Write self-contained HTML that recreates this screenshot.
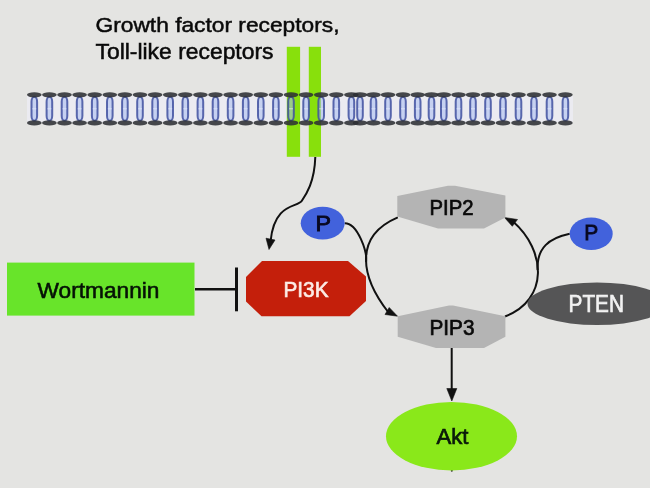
<!DOCTYPE html>
<html><head><meta charset="utf-8">
<style>
html,body{margin:0;padding:0;background:#e4e4e2;width:650px;height:488px;overflow:hidden}
svg{display:block;filter:blur(0.4px)}
text{font-family:"Liberation Sans",sans-serif}
</style></head><body>
<svg width="650" height="488" viewBox="0 0 650 488">
<rect width="650" height="488" fill="#e4e4e2"/>
<text x="95.50" y="32.44" font-size="21" fill="#0a0a0a" stroke="#0a0a0a" stroke-width="0.5" textLength="244.00" lengthAdjust="spacingAndGlyphs">Growth factor receptors,</text>
<text x="95.50" y="58.94" font-size="21.5" fill="#0a0a0a" stroke="#0a0a0a" stroke-width="0.5" textLength="178.00" lengthAdjust="spacingAndGlyphs">Toll-like receptors</text>
<rect x="27" y="96" width="546" height="26" fill="#ebebf1"/>
<rect x="286.8" y="46.8" width="13.3" height="110" fill="#88e00c"/>
<rect x="308.8" y="46.8" width="12.2" height="110" fill="#88e00c"/>
<rect x="31.5" y="96.8" width="5.6" height="24" rx="2.8" ry="5" fill="#a8bcf0" fill-opacity="0.55" stroke="#3f50a0" stroke-opacity="0.85" stroke-width="2"/>
<rect x="46.6" y="96.8" width="5.6" height="24" rx="2.8" ry="5" fill="#a8bcf0" fill-opacity="0.55" stroke="#3f50a0" stroke-opacity="0.85" stroke-width="2"/>
<rect x="61.7" y="96.8" width="5.6" height="24" rx="2.8" ry="5" fill="#a8bcf0" fill-opacity="0.55" stroke="#3f50a0" stroke-opacity="0.85" stroke-width="2"/>
<rect x="76.8" y="96.8" width="5.6" height="24" rx="2.8" ry="5" fill="#a8bcf0" fill-opacity="0.55" stroke="#3f50a0" stroke-opacity="0.85" stroke-width="2"/>
<rect x="91.9" y="96.8" width="5.6" height="24" rx="2.8" ry="5" fill="#a8bcf0" fill-opacity="0.55" stroke="#3f50a0" stroke-opacity="0.85" stroke-width="2"/>
<rect x="107.0" y="96.8" width="5.6" height="24" rx="2.8" ry="5" fill="#a8bcf0" fill-opacity="0.55" stroke="#3f50a0" stroke-opacity="0.85" stroke-width="2"/>
<rect x="122.1" y="96.8" width="5.6" height="24" rx="2.8" ry="5" fill="#a8bcf0" fill-opacity="0.55" stroke="#3f50a0" stroke-opacity="0.85" stroke-width="2"/>
<rect x="137.2" y="96.8" width="5.6" height="24" rx="2.8" ry="5" fill="#a8bcf0" fill-opacity="0.55" stroke="#3f50a0" stroke-opacity="0.85" stroke-width="2"/>
<rect x="152.3" y="96.8" width="5.6" height="24" rx="2.8" ry="5" fill="#a8bcf0" fill-opacity="0.55" stroke="#3f50a0" stroke-opacity="0.85" stroke-width="2"/>
<rect x="167.4" y="96.8" width="5.6" height="24" rx="2.8" ry="5" fill="#a8bcf0" fill-opacity="0.55" stroke="#3f50a0" stroke-opacity="0.85" stroke-width="2"/>
<rect x="182.5" y="96.8" width="5.6" height="24" rx="2.8" ry="5" fill="#a8bcf0" fill-opacity="0.55" stroke="#3f50a0" stroke-opacity="0.85" stroke-width="2"/>
<rect x="197.6" y="96.8" width="5.6" height="24" rx="2.8" ry="5" fill="#a8bcf0" fill-opacity="0.55" stroke="#3f50a0" stroke-opacity="0.85" stroke-width="2"/>
<rect x="212.7" y="96.8" width="5.6" height="24" rx="2.8" ry="5" fill="#a8bcf0" fill-opacity="0.55" stroke="#3f50a0" stroke-opacity="0.85" stroke-width="2"/>
<rect x="227.8" y="96.8" width="5.6" height="24" rx="2.8" ry="5" fill="#a8bcf0" fill-opacity="0.55" stroke="#3f50a0" stroke-opacity="0.85" stroke-width="2"/>
<rect x="242.9" y="96.8" width="5.6" height="24" rx="2.8" ry="5" fill="#a8bcf0" fill-opacity="0.55" stroke="#3f50a0" stroke-opacity="0.85" stroke-width="2"/>
<rect x="258.0" y="96.8" width="5.6" height="24" rx="2.8" ry="5" fill="#a8bcf0" fill-opacity="0.55" stroke="#3f50a0" stroke-opacity="0.85" stroke-width="2"/>
<rect x="273.1" y="96.8" width="5.6" height="24" rx="2.8" ry="5" fill="#a8bcf0" fill-opacity="0.55" stroke="#3f50a0" stroke-opacity="0.85" stroke-width="2"/>
<rect x="288.2" y="96.8" width="5.6" height="24" rx="2.8" ry="5" fill="#a8bcf0" fill-opacity="0.55" stroke="#3f50a0" stroke-opacity="0.85" stroke-width="2"/>
<rect x="303.3" y="96.8" width="5.6" height="24" rx="2.8" ry="5" fill="#a8bcf0" fill-opacity="0.55" stroke="#3f50a0" stroke-opacity="0.85" stroke-width="2"/>
<rect x="318.4" y="96.8" width="5.6" height="24" rx="2.8" ry="5" fill="#a8bcf0" fill-opacity="0.55" stroke="#3f50a0" stroke-opacity="0.85" stroke-width="2"/>
<rect x="333.5" y="96.8" width="5.6" height="24" rx="2.8" ry="5" fill="#a8bcf0" fill-opacity="0.55" stroke="#3f50a0" stroke-opacity="0.85" stroke-width="2"/>
<rect x="348.6" y="96.8" width="5.6" height="24" rx="2.8" ry="5" fill="#a8bcf0" fill-opacity="0.55" stroke="#3f50a0" stroke-opacity="0.85" stroke-width="2"/>
<rect x="357.2" y="96.8" width="5.6" height="24" rx="2.8" ry="5" fill="#a8bcf0" fill-opacity="0.55" stroke="#3f50a0" stroke-opacity="0.85" stroke-width="2"/>
<rect x="370.7" y="96.8" width="5.6" height="24" rx="2.8" ry="5" fill="#a8bcf0" fill-opacity="0.55" stroke="#3f50a0" stroke-opacity="0.85" stroke-width="2"/>
<rect x="385.2" y="96.8" width="5.6" height="24" rx="2.8" ry="5" fill="#a8bcf0" fill-opacity="0.55" stroke="#3f50a0" stroke-opacity="0.85" stroke-width="2"/>
<rect x="400.2" y="96.8" width="5.6" height="24" rx="2.8" ry="5" fill="#a8bcf0" fill-opacity="0.55" stroke="#3f50a0" stroke-opacity="0.85" stroke-width="2"/>
<rect x="414.9" y="96.8" width="5.6" height="24" rx="2.8" ry="5" fill="#a8bcf0" fill-opacity="0.55" stroke="#3f50a0" stroke-opacity="0.85" stroke-width="2"/>
<rect x="428.7" y="96.8" width="5.6" height="24" rx="2.8" ry="5" fill="#a8bcf0" fill-opacity="0.55" stroke="#3f50a0" stroke-opacity="0.85" stroke-width="2"/>
<rect x="441.0" y="96.8" width="5.6" height="24" rx="2.8" ry="5" fill="#a8bcf0" fill-opacity="0.55" stroke="#3f50a0" stroke-opacity="0.85" stroke-width="2"/>
<rect x="455.7" y="96.8" width="5.6" height="24" rx="2.8" ry="5" fill="#a8bcf0" fill-opacity="0.55" stroke="#3f50a0" stroke-opacity="0.85" stroke-width="2"/>
<rect x="470.2" y="96.8" width="5.6" height="24" rx="2.8" ry="5" fill="#a8bcf0" fill-opacity="0.55" stroke="#3f50a0" stroke-opacity="0.85" stroke-width="2"/>
<rect x="485.2" y="96.8" width="5.6" height="24" rx="2.8" ry="5" fill="#a8bcf0" fill-opacity="0.55" stroke="#3f50a0" stroke-opacity="0.85" stroke-width="2"/>
<rect x="500.2" y="96.8" width="5.6" height="24" rx="2.8" ry="5" fill="#a8bcf0" fill-opacity="0.55" stroke="#3f50a0" stroke-opacity="0.85" stroke-width="2"/>
<rect x="515.7" y="96.8" width="5.6" height="24" rx="2.8" ry="5" fill="#a8bcf0" fill-opacity="0.55" stroke="#3f50a0" stroke-opacity="0.85" stroke-width="2"/>
<rect x="531.2" y="96.8" width="5.6" height="24" rx="2.8" ry="5" fill="#a8bcf0" fill-opacity="0.55" stroke="#3f50a0" stroke-opacity="0.85" stroke-width="2"/>
<rect x="546.7" y="96.8" width="5.6" height="24" rx="2.8" ry="5" fill="#a8bcf0" fill-opacity="0.55" stroke="#3f50a0" stroke-opacity="0.85" stroke-width="2"/>
<rect x="562.6" y="96.8" width="5.6" height="24" rx="2.8" ry="5" fill="#a8bcf0" fill-opacity="0.55" stroke="#3f50a0" stroke-opacity="0.85" stroke-width="2"/>
<line x1="32.3" y1="108.8" x2="36.3" y2="108.8" stroke="#e6ecfc" stroke-width="1" stroke-opacity="0.7"/>
<line x1="47.4" y1="108.8" x2="51.4" y2="108.8" stroke="#e6ecfc" stroke-width="1" stroke-opacity="0.7"/>
<line x1="62.5" y1="108.8" x2="66.5" y2="108.8" stroke="#e6ecfc" stroke-width="1" stroke-opacity="0.7"/>
<line x1="77.6" y1="108.8" x2="81.6" y2="108.8" stroke="#e6ecfc" stroke-width="1" stroke-opacity="0.7"/>
<line x1="92.7" y1="108.8" x2="96.7" y2="108.8" stroke="#e6ecfc" stroke-width="1" stroke-opacity="0.7"/>
<line x1="107.8" y1="108.8" x2="111.8" y2="108.8" stroke="#e6ecfc" stroke-width="1" stroke-opacity="0.7"/>
<line x1="122.9" y1="108.8" x2="126.9" y2="108.8" stroke="#e6ecfc" stroke-width="1" stroke-opacity="0.7"/>
<line x1="138.0" y1="108.8" x2="142.0" y2="108.8" stroke="#e6ecfc" stroke-width="1" stroke-opacity="0.7"/>
<line x1="153.1" y1="108.8" x2="157.1" y2="108.8" stroke="#e6ecfc" stroke-width="1" stroke-opacity="0.7"/>
<line x1="168.2" y1="108.8" x2="172.2" y2="108.8" stroke="#e6ecfc" stroke-width="1" stroke-opacity="0.7"/>
<line x1="183.3" y1="108.8" x2="187.3" y2="108.8" stroke="#e6ecfc" stroke-width="1" stroke-opacity="0.7"/>
<line x1="198.4" y1="108.8" x2="202.4" y2="108.8" stroke="#e6ecfc" stroke-width="1" stroke-opacity="0.7"/>
<line x1="213.5" y1="108.8" x2="217.5" y2="108.8" stroke="#e6ecfc" stroke-width="1" stroke-opacity="0.7"/>
<line x1="228.6" y1="108.8" x2="232.6" y2="108.8" stroke="#e6ecfc" stroke-width="1" stroke-opacity="0.7"/>
<line x1="243.7" y1="108.8" x2="247.7" y2="108.8" stroke="#e6ecfc" stroke-width="1" stroke-opacity="0.7"/>
<line x1="258.8" y1="108.8" x2="262.8" y2="108.8" stroke="#e6ecfc" stroke-width="1" stroke-opacity="0.7"/>
<line x1="273.9" y1="108.8" x2="277.9" y2="108.8" stroke="#e6ecfc" stroke-width="1" stroke-opacity="0.7"/>
<line x1="289.0" y1="108.8" x2="293.0" y2="108.8" stroke="#e6ecfc" stroke-width="1" stroke-opacity="0.7"/>
<line x1="304.1" y1="108.8" x2="308.1" y2="108.8" stroke="#e6ecfc" stroke-width="1" stroke-opacity="0.7"/>
<line x1="319.2" y1="108.8" x2="323.2" y2="108.8" stroke="#e6ecfc" stroke-width="1" stroke-opacity="0.7"/>
<line x1="334.3" y1="108.8" x2="338.3" y2="108.8" stroke="#e6ecfc" stroke-width="1" stroke-opacity="0.7"/>
<line x1="349.4" y1="108.8" x2="353.4" y2="108.8" stroke="#e6ecfc" stroke-width="1" stroke-opacity="0.7"/>
<line x1="358.0" y1="108.8" x2="362.0" y2="108.8" stroke="#e6ecfc" stroke-width="1" stroke-opacity="0.7"/>
<line x1="371.5" y1="108.8" x2="375.5" y2="108.8" stroke="#e6ecfc" stroke-width="1" stroke-opacity="0.7"/>
<line x1="386.0" y1="108.8" x2="390.0" y2="108.8" stroke="#e6ecfc" stroke-width="1" stroke-opacity="0.7"/>
<line x1="401.0" y1="108.8" x2="405.0" y2="108.8" stroke="#e6ecfc" stroke-width="1" stroke-opacity="0.7"/>
<line x1="415.7" y1="108.8" x2="419.7" y2="108.8" stroke="#e6ecfc" stroke-width="1" stroke-opacity="0.7"/>
<line x1="429.5" y1="108.8" x2="433.5" y2="108.8" stroke="#e6ecfc" stroke-width="1" stroke-opacity="0.7"/>
<line x1="441.8" y1="108.8" x2="445.8" y2="108.8" stroke="#e6ecfc" stroke-width="1" stroke-opacity="0.7"/>
<line x1="456.5" y1="108.8" x2="460.5" y2="108.8" stroke="#e6ecfc" stroke-width="1" stroke-opacity="0.7"/>
<line x1="471.0" y1="108.8" x2="475.0" y2="108.8" stroke="#e6ecfc" stroke-width="1" stroke-opacity="0.7"/>
<line x1="486.0" y1="108.8" x2="490.0" y2="108.8" stroke="#e6ecfc" stroke-width="1" stroke-opacity="0.7"/>
<line x1="501.0" y1="108.8" x2="505.0" y2="108.8" stroke="#e6ecfc" stroke-width="1" stroke-opacity="0.7"/>
<line x1="516.5" y1="108.8" x2="520.5" y2="108.8" stroke="#e6ecfc" stroke-width="1" stroke-opacity="0.7"/>
<line x1="532.0" y1="108.8" x2="536.0" y2="108.8" stroke="#e6ecfc" stroke-width="1" stroke-opacity="0.7"/>
<line x1="547.5" y1="108.8" x2="551.5" y2="108.8" stroke="#e6ecfc" stroke-width="1" stroke-opacity="0.7"/>
<line x1="563.4" y1="108.8" x2="567.4" y2="108.8" stroke="#e6ecfc" stroke-width="1" stroke-opacity="0.7"/>
<ellipse cx="34.3" cy="94.8" rx="7.3" ry="2.6" fill="#2e3034" fill-opacity="0.88"/>
<ellipse cx="34.3" cy="122.9" rx="7.3" ry="2.6" fill="#2e3034" fill-opacity="0.88"/>
<ellipse cx="49.4" cy="94.8" rx="7.3" ry="2.6" fill="#2e3034" fill-opacity="0.88"/>
<ellipse cx="49.4" cy="122.9" rx="7.3" ry="2.6" fill="#2e3034" fill-opacity="0.88"/>
<ellipse cx="64.5" cy="94.8" rx="7.3" ry="2.6" fill="#2e3034" fill-opacity="0.88"/>
<ellipse cx="64.5" cy="122.9" rx="7.3" ry="2.6" fill="#2e3034" fill-opacity="0.88"/>
<ellipse cx="79.6" cy="94.8" rx="7.3" ry="2.6" fill="#2e3034" fill-opacity="0.88"/>
<ellipse cx="79.6" cy="122.9" rx="7.3" ry="2.6" fill="#2e3034" fill-opacity="0.88"/>
<ellipse cx="94.7" cy="94.8" rx="7.3" ry="2.6" fill="#2e3034" fill-opacity="0.88"/>
<ellipse cx="94.7" cy="122.9" rx="7.3" ry="2.6" fill="#2e3034" fill-opacity="0.88"/>
<ellipse cx="109.8" cy="94.8" rx="7.3" ry="2.6" fill="#2e3034" fill-opacity="0.88"/>
<ellipse cx="109.8" cy="122.9" rx="7.3" ry="2.6" fill="#2e3034" fill-opacity="0.88"/>
<ellipse cx="124.9" cy="94.8" rx="7.3" ry="2.6" fill="#2e3034" fill-opacity="0.88"/>
<ellipse cx="124.9" cy="122.9" rx="7.3" ry="2.6" fill="#2e3034" fill-opacity="0.88"/>
<ellipse cx="140.0" cy="94.8" rx="7.3" ry="2.6" fill="#2e3034" fill-opacity="0.88"/>
<ellipse cx="140.0" cy="122.9" rx="7.3" ry="2.6" fill="#2e3034" fill-opacity="0.88"/>
<ellipse cx="155.1" cy="94.8" rx="7.3" ry="2.6" fill="#2e3034" fill-opacity="0.88"/>
<ellipse cx="155.1" cy="122.9" rx="7.3" ry="2.6" fill="#2e3034" fill-opacity="0.88"/>
<ellipse cx="170.2" cy="94.8" rx="7.3" ry="2.6" fill="#2e3034" fill-opacity="0.88"/>
<ellipse cx="170.2" cy="122.9" rx="7.3" ry="2.6" fill="#2e3034" fill-opacity="0.88"/>
<ellipse cx="185.3" cy="94.8" rx="7.3" ry="2.6" fill="#2e3034" fill-opacity="0.88"/>
<ellipse cx="185.3" cy="122.9" rx="7.3" ry="2.6" fill="#2e3034" fill-opacity="0.88"/>
<ellipse cx="200.4" cy="94.8" rx="7.3" ry="2.6" fill="#2e3034" fill-opacity="0.88"/>
<ellipse cx="200.4" cy="122.9" rx="7.3" ry="2.6" fill="#2e3034" fill-opacity="0.88"/>
<ellipse cx="215.5" cy="94.8" rx="7.3" ry="2.6" fill="#2e3034" fill-opacity="0.88"/>
<ellipse cx="215.5" cy="122.9" rx="7.3" ry="2.6" fill="#2e3034" fill-opacity="0.88"/>
<ellipse cx="230.6" cy="94.8" rx="7.3" ry="2.6" fill="#2e3034" fill-opacity="0.88"/>
<ellipse cx="230.6" cy="122.9" rx="7.3" ry="2.6" fill="#2e3034" fill-opacity="0.88"/>
<ellipse cx="245.7" cy="94.8" rx="7.3" ry="2.6" fill="#2e3034" fill-opacity="0.88"/>
<ellipse cx="245.7" cy="122.9" rx="7.3" ry="2.6" fill="#2e3034" fill-opacity="0.88"/>
<ellipse cx="260.8" cy="94.8" rx="7.3" ry="2.6" fill="#2e3034" fill-opacity="0.88"/>
<ellipse cx="260.8" cy="122.9" rx="7.3" ry="2.6" fill="#2e3034" fill-opacity="0.88"/>
<ellipse cx="275.9" cy="94.8" rx="7.3" ry="2.6" fill="#2e3034" fill-opacity="0.88"/>
<ellipse cx="275.9" cy="122.9" rx="7.3" ry="2.6" fill="#2e3034" fill-opacity="0.88"/>
<ellipse cx="291.0" cy="94.8" rx="7.3" ry="2.6" fill="#2e3034" fill-opacity="0.88"/>
<ellipse cx="291.0" cy="122.9" rx="7.3" ry="2.6" fill="#2e3034" fill-opacity="0.88"/>
<ellipse cx="306.1" cy="94.8" rx="7.3" ry="2.6" fill="#2e3034" fill-opacity="0.88"/>
<ellipse cx="306.1" cy="122.9" rx="7.3" ry="2.6" fill="#2e3034" fill-opacity="0.88"/>
<ellipse cx="321.2" cy="94.8" rx="7.3" ry="2.6" fill="#2e3034" fill-opacity="0.88"/>
<ellipse cx="321.2" cy="122.9" rx="7.3" ry="2.6" fill="#2e3034" fill-opacity="0.88"/>
<ellipse cx="336.3" cy="94.8" rx="7.3" ry="2.6" fill="#2e3034" fill-opacity="0.88"/>
<ellipse cx="336.3" cy="122.9" rx="7.3" ry="2.6" fill="#2e3034" fill-opacity="0.88"/>
<ellipse cx="351.4" cy="94.8" rx="7.3" ry="2.6" fill="#2e3034" fill-opacity="0.88"/>
<ellipse cx="351.4" cy="122.9" rx="7.3" ry="2.6" fill="#2e3034" fill-opacity="0.88"/>
<ellipse cx="360.0" cy="94.8" rx="7.3" ry="2.6" fill="#2e3034" fill-opacity="0.88"/>
<ellipse cx="360.0" cy="122.9" rx="7.3" ry="2.6" fill="#2e3034" fill-opacity="0.88"/>
<ellipse cx="373.5" cy="94.8" rx="7.3" ry="2.6" fill="#2e3034" fill-opacity="0.88"/>
<ellipse cx="373.5" cy="122.9" rx="7.3" ry="2.6" fill="#2e3034" fill-opacity="0.88"/>
<ellipse cx="388.0" cy="94.8" rx="7.3" ry="2.6" fill="#2e3034" fill-opacity="0.88"/>
<ellipse cx="388.0" cy="122.9" rx="7.3" ry="2.6" fill="#2e3034" fill-opacity="0.88"/>
<ellipse cx="403.0" cy="94.8" rx="7.3" ry="2.6" fill="#2e3034" fill-opacity="0.88"/>
<ellipse cx="403.0" cy="122.9" rx="7.3" ry="2.6" fill="#2e3034" fill-opacity="0.88"/>
<ellipse cx="417.7" cy="94.8" rx="7.3" ry="2.6" fill="#2e3034" fill-opacity="0.88"/>
<ellipse cx="417.7" cy="122.9" rx="7.3" ry="2.6" fill="#2e3034" fill-opacity="0.88"/>
<ellipse cx="431.5" cy="94.8" rx="7.3" ry="2.6" fill="#2e3034" fill-opacity="0.88"/>
<ellipse cx="431.5" cy="122.9" rx="7.3" ry="2.6" fill="#2e3034" fill-opacity="0.88"/>
<ellipse cx="443.8" cy="94.8" rx="7.3" ry="2.6" fill="#2e3034" fill-opacity="0.88"/>
<ellipse cx="443.8" cy="122.9" rx="7.3" ry="2.6" fill="#2e3034" fill-opacity="0.88"/>
<ellipse cx="458.5" cy="94.8" rx="7.3" ry="2.6" fill="#2e3034" fill-opacity="0.88"/>
<ellipse cx="458.5" cy="122.9" rx="7.3" ry="2.6" fill="#2e3034" fill-opacity="0.88"/>
<ellipse cx="473.0" cy="94.8" rx="7.3" ry="2.6" fill="#2e3034" fill-opacity="0.88"/>
<ellipse cx="473.0" cy="122.9" rx="7.3" ry="2.6" fill="#2e3034" fill-opacity="0.88"/>
<ellipse cx="488.0" cy="94.8" rx="7.3" ry="2.6" fill="#2e3034" fill-opacity="0.88"/>
<ellipse cx="488.0" cy="122.9" rx="7.3" ry="2.6" fill="#2e3034" fill-opacity="0.88"/>
<ellipse cx="503.0" cy="94.8" rx="7.3" ry="2.6" fill="#2e3034" fill-opacity="0.88"/>
<ellipse cx="503.0" cy="122.9" rx="7.3" ry="2.6" fill="#2e3034" fill-opacity="0.88"/>
<ellipse cx="518.5" cy="94.8" rx="7.3" ry="2.6" fill="#2e3034" fill-opacity="0.88"/>
<ellipse cx="518.5" cy="122.9" rx="7.3" ry="2.6" fill="#2e3034" fill-opacity="0.88"/>
<ellipse cx="534.0" cy="94.8" rx="7.3" ry="2.6" fill="#2e3034" fill-opacity="0.88"/>
<ellipse cx="534.0" cy="122.9" rx="7.3" ry="2.6" fill="#2e3034" fill-opacity="0.88"/>
<ellipse cx="549.5" cy="94.8" rx="7.3" ry="2.6" fill="#2e3034" fill-opacity="0.88"/>
<ellipse cx="549.5" cy="122.9" rx="7.3" ry="2.6" fill="#2e3034" fill-opacity="0.88"/>
<ellipse cx="565.4" cy="94.8" rx="7.3" ry="2.6" fill="#2e3034" fill-opacity="0.88"/>
<ellipse cx="565.4" cy="122.9" rx="7.3" ry="2.6" fill="#2e3034" fill-opacity="0.88"/>
<g fill="none" stroke="#111" stroke-width="2">
<path d="M315.3,157 C314.5,182.0 306.3,194.2 301.7,201.0 C297.1,207.6 274.4,202.6 270.6,241.0"/>
<path d="M397.8,217.4 C352.1,236.9 361.8,278.6 388.5,312.5"/>
<path d="M344.7,223.2 C357.8,223.0 367.5,252.4 366.0,262.0"/>
<path d="M513,221.5 C546.1,250.5 549.0,299.7 505.0,316.5"/>
<path d="M569.7,233.8 C549.4,238.1 536.4,247.6 537.7,270.0"/>
<line x1="195" y1="289.3" x2="236.5" y2="289.3" stroke-width="2.6"/>
<line x1="236.5" y1="267.5" x2="236.5" y2="311.3" stroke-width="3"/>
<line x1="451.7" y1="347" x2="451.7" y2="392"/>
</g>
<g fill="#111" stroke="#111" stroke-width="0.6" stroke-linejoin="round">
<polygon points="269,249.5 266,238.2 275,240"/>
<polygon points="397.5,316.2 385,314.5 389.2,307.5"/>
<polygon points="504.5,217.5 517.5,219.5 512.3,226.3"/>
<polygon points="451.8,401 446.8,388.5 456.8,388.5"/>
</g>
<circle cx="451.8" cy="470.8" r="1" fill="#333"/>
<rect x="7" y="262.6" width="187.5" height="53" fill="#68e42a"/>
<text x="37.50" y="297.88" font-size="21.5" fill="#061206" stroke="#061206" stroke-width="0.55" textLength="122.00" lengthAdjust="spacingAndGlyphs">Wortmannin</text>
<polygon points="262,261 348,261 366,276.5 366,301 349.5,316.3 261.5,316.3 246,301.5 246,277" fill="#c41f0b"/>
<text x="283.50" y="297.12" font-size="21.5" fill="#fcece6" stroke="#fcece6" stroke-width="0.65" textLength="45.00" lengthAdjust="spacingAndGlyphs">PI3K</text>
<ellipse cx="322.7" cy="223.2" rx="22" ry="16.4" fill="#4262dc"/>
<text x="315.50" y="230.88" font-size="22" fill="#080820" stroke="#080820" stroke-width="0.85" textLength="15.50" lengthAdjust="spacingAndGlyphs">P</text>
<polygon points="397.3,196 448,185.8 455,185.8 505.4,195.5 505.4,217.5 484,228.5 438,228.5 397.3,216.5" fill="#b4b4b4"/>
<text x="429.50" y="215.06" font-size="21.5" fill="#0a0a0a" stroke="#0a0a0a" stroke-width="0.7" textLength="44.00" lengthAdjust="spacingAndGlyphs">PIP2</text>
<polygon points="397.7,316.3 449,305.6 453,305.6 505.4,316.3 505.4,336.8 484,348 436,348 397.7,336.8" fill="#b4b4b4"/>
<text x="429.50" y="334.88" font-size="21.5" fill="#0a0a0a" stroke="#0a0a0a" stroke-width="0.7" textLength="45.00" lengthAdjust="spacingAndGlyphs">PIP3</text>
<ellipse cx="451.5" cy="436.2" rx="65.5" ry="34.2" fill="#8ae81a"/>
<text x="436.50" y="443.50" font-size="22.5" fill="#0a1a0a" stroke="#0a1a0a" stroke-width="0.7" textLength="32.00" lengthAdjust="spacingAndGlyphs">Akt</text>
<ellipse cx="597" cy="303.7" rx="69.5" ry="21.3" fill="#555556"/>
<text x="568.50" y="312.12" font-size="23" fill="#f2f2f2" stroke="#f2f2f2" stroke-width="0.65" textLength="55.50" lengthAdjust="spacingAndGlyphs">PTEN</text>
<ellipse cx="591.2" cy="233.8" rx="21.5" ry="16.2" fill="#4262dc"/>
<text x="584.20" y="240.30" font-size="22" fill="#080820" stroke="#080820" stroke-width="0.85" textLength="14.00" lengthAdjust="spacingAndGlyphs">P</text>
</svg>
</body></html>
